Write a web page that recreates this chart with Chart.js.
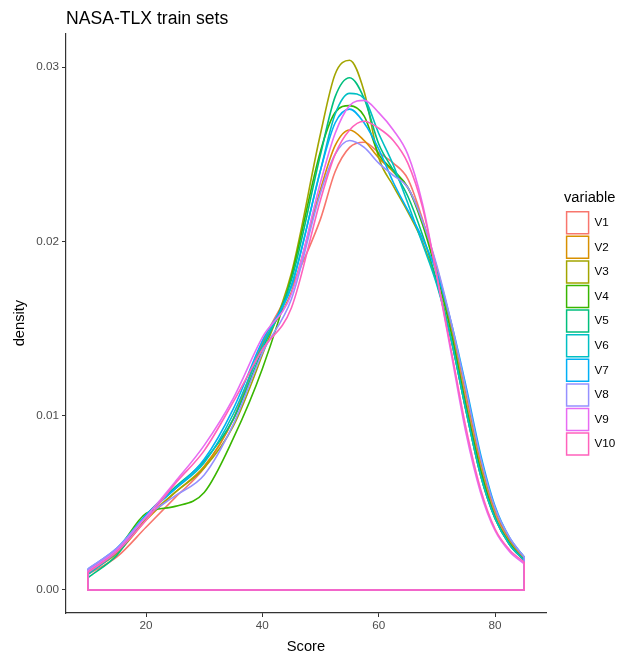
<!DOCTYPE html>
<html>
<head>
<meta charset="utf-8">
<script src="https://cdn.jsdelivr.net/npm/chart.js@4"></script>
<style>
  html, body { margin: 0; padding: 0; background: #ffffff; }
  canvas { display: block; }
</style>
</head>
<body>
<canvas id="densityChart" width="628" height="656"></canvas>
<script>
const scoreGrid = [10, 15, 20, 25, 30, 35, 40, 45, 50, 52.5, 55, 57.5, 60, 62.5, 65, 67.5, 70, 72.5, 75, 77.5, 80, 82.5, 85];

const v1  = [0.0009, 0.0019, 0.0036, 0.0053, 0.0070, 0.0098, 0.0142, 0.0174, 0.0213, 0.0240, 0.0254, 0.0257, 0.0251, 0.0245, 0.0236, 0.0213, 0.0183, 0.0149, 0.0109, 0.0071, 0.0044, 0.0028, 0.0018];
const v2  = [0.0010, 0.0021, 0.0040, 0.0056, 0.0071, 0.0098, 0.0141, 0.0171, 0.0230, 0.0255, 0.0264, 0.0258, 0.0248, 0.0240, 0.0231, 0.0212, 0.0185, 0.0152, 0.0113, 0.0074, 0.0046, 0.0029, 0.0019];
const v3  = [0.0010, 0.0022, 0.0041, 0.0056, 0.0070, 0.0094, 0.0135, 0.0182, 0.0262, 0.0296, 0.0304, 0.0286, 0.0248, 0.0232, 0.0217, 0.0200, 0.0176, 0.0143, 0.0103, 0.0066, 0.0041, 0.0026, 0.0017];
const v4  = [0.0011, 0.0023, 0.0044, 0.0048, 0.0056, 0.0087, 0.0127, 0.0180, 0.0252, 0.0274, 0.0278, 0.0272, 0.0250, 0.0241, 0.0231, 0.0210, 0.0181, 0.0147, 0.0106, 0.0069, 0.0042, 0.0027, 0.0017];
const v5  = [0.0007, 0.0020, 0.0043, 0.0059, 0.0074, 0.0098, 0.0138, 0.0178, 0.0250, 0.0283, 0.0294, 0.0282, 0.0256, 0.0241, 0.0226, 0.0204, 0.0177, 0.0143, 0.0103, 0.0066, 0.0041, 0.0026, 0.0017];
const v6  = [0.0009, 0.0022, 0.0043, 0.0058, 0.0073, 0.0101, 0.0140, 0.0175, 0.0241, 0.0273, 0.0285, 0.0282, 0.0262, 0.0244, 0.0222, 0.0199, 0.0175, 0.0143, 0.0103, 0.0066, 0.0041, 0.0026, 0.0017];
const v7  = [0.0012, 0.0024, 0.0043, 0.0058, 0.0075, 0.0104, 0.0143, 0.0174, 0.0241, 0.0268, 0.0276, 0.0268, 0.0253, 0.0234, 0.0218, 0.0202, 0.0182, 0.0153, 0.0117, 0.0078, 0.0048, 0.0030, 0.0019];
const v8  = [0.0012, 0.0024, 0.0042, 0.0054, 0.0066, 0.0095, 0.0136, 0.0167, 0.0228, 0.0250, 0.0258, 0.0254, 0.0245, 0.0238, 0.0231, 0.0212, 0.0186, 0.0153, 0.0115, 0.0076, 0.0047, 0.0030, 0.0019];
const v9  = [0.0011, 0.0023, 0.0042, 0.0062, 0.0083, 0.0110, 0.0145, 0.0170, 0.0234, 0.0262, 0.0278, 0.0281, 0.0274, 0.0264, 0.0250, 0.0222, 0.0180, 0.0135, 0.0090, 0.0056, 0.0034, 0.0022, 0.0015];
const v10 = [0.0010, 0.0022, 0.0040, 0.0061, 0.0080, 0.0108, 0.0138, 0.0162, 0.0224, 0.0250, 0.0264, 0.0269, 0.0265, 0.0258, 0.0245, 0.0220, 0.0180, 0.0137, 0.0093, 0.0058, 0.0035, 0.0023, 0.0016];

const seriesNames = ['V1', 'V2', 'V3', 'V4', 'V5', 'V6', 'V7', 'V8', 'V9', 'V10'];
const seriesValues = [v1, v2, v3, v4, v5, v6, v7, v8, v9, v10];
const seriesColors = ['#F8766D', '#D89000', '#A3A500', '#39B600', '#00BF7D', '#00BFC4', '#00B0F6', '#9590FF', '#E76BF3', '#FF62BC'];

const xTicks = [20, 40, 60, 80];
const yTicks = [0, 0.01, 0.02, 0.03];

const FONT = '"Liberation Sans", Arial, Helvetica, sans-serif';
Chart.defaults.font.family = FONT;

// density curves plus the closed polygon edge (vertical ends + zero line), like geom_density
const datasets = [];
seriesNames.forEach((name, i) => {
    const vals = seriesValues[i];
    const first = scoreGrid[0];
    const last = scoreGrid[scoreGrid.length - 1];
    datasets.push({
        label: name,
        data: scoreGrid.map((x, j) => ({ x: x, y: vals[j] })),
        borderColor: seriesColors[i],
        backgroundColor: seriesColors[i],
        borderWidth: 1.6,
        pointRadius: 0,
        fill: false,
        cubicInterpolationMode: 'monotone',
        order: seriesNames.length - i
    });
    datasets.push({
        label: name + ' base',
        data: [
            { x: first, y: vals[0] },
            { x: first, y: 0 },
            { x: last, y: 0 },
            { x: last, y: vals[vals.length - 1] }
        ],
        borderColor: seriesColors[i],
        borderWidth: 1.6,
        pointRadius: 0,
        fill: false,
        tension: 0,
        order: seriesNames.length - i
    });
});

// push the legend away from the panel, as ggplot leaves a gap there
const legendGap = {
    id: 'legendGap',
    afterInit(chart) {
        const fit = chart.legend.fit;
        chart.legend.fit = function () {
            fit.call(this);
            this.width = 82;
        };
    },
    afterLayout(chart) {
        chart.legend.left += 18;
    }
};

const ctx = document.getElementById('densityChart').getContext('2d');
const densityChart = new Chart(ctx, {
    type: 'line',
    data: { datasets: datasets },
    plugins: [legendGap],
    options: {
        responsive: false,
        animation: false,
        events: [],
        layout: { padding: 0 },
        scales: {
            x: {
                type: 'linear',
                min: 6.25,
                max: 88.75,
                afterFit(scale) { scale.height = 43; },
                afterBuildTicks(scale) { scale.ticks = xTicks.map(v => ({ value: v })); },
                grid: { drawOnChartArea: false, drawTicks: true, tickLength: 4, color: '#333333' },
                border: { display: true, color: '#333333', width: 1.2 },
                ticks: {
                    color: '#4D4D4D',
                    font: { size: 11.7 },
                    padding: 2,
                    autoSkip: false,
                    maxRotation: 0,
                    callback: v => String(v)
                },
                title: {
                    display: true,
                    text: 'Score',
                    color: '#000000',
                    font: { size: 14.7 },
                    padding: { top: 0, bottom: 0 }
                }
            },
            y: {
                type: 'linear',
                min: -0.00132,
                max: 0.03196,
                afterFit(scale) { scale.width = 66; },
                afterBuildTicks(scale) { scale.ticks = yTicks.map(v => ({ value: v })); },
                grid: { drawOnChartArea: false, drawTicks: true, tickLength: 4, color: '#333333' },
                border: { display: true, color: '#333333', width: 1.2 },
                ticks: {
                    color: '#4D4D4D',
                    font: { size: 11.7 },
                    padding: 3,
                    autoSkip: false,
                    callback: v => v.toFixed(2)
                },
                title: {
                    display: true,
                    text: 'density',
                    color: '#000000',
                    font: { size: 14.7 },
                    padding: { top: 11, bottom: 0 }
                }
            }
        },
        plugins: {
            title: {
                display: true,
                text: 'NASA-TLX train sets',
                align: 'start',
                fullSize: false,
                color: '#000000',
                font: { size: 17.6, weight: 'normal' },
                padding: { top: 9, bottom: 3 }
            },
            legend: {
                position: 'right',
                fullSize: false,
                align: 'center',
                title: {
                    display: true,
                    text: 'variable',
                    position: 'start',
                    color: '#000000',
                    font: { size: 14.7 },
                    padding: { top: 2, bottom: 1 }
                },
                labels: {
                    boxWidth: 22,
                    boxHeight: 22,
                    padding: 2.6,
                    color: '#000000',
                    font: { size: 11.7 },
                    generateLabels: () => seriesNames.map((name, i) => ({
                        text: name,
                        fillStyle: '#ffffff',
                        strokeStyle: seriesColors[i],
                        lineWidth: 1.5,
                        fontColor: '#000000',
                        hidden: false,
                        datasetIndex: i * 2
                    }))
                }
            },
            tooltip: { enabled: false }
        }
    }
});
</script>
</body>
</html>
